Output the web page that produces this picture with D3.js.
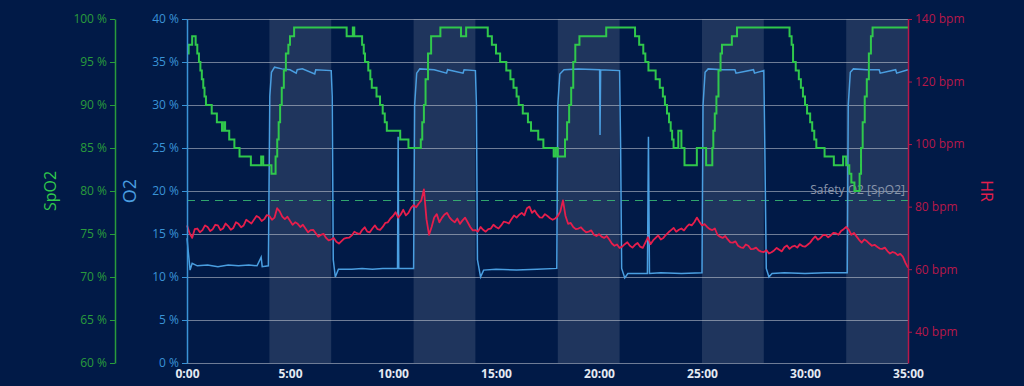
<!DOCTYPE html>
<html>
<head>
<meta charset="utf-8">
<script src="https://cdn.jsdelivr.net/npm/d3@7"></script>
<style>
  html, body { margin: 0; padding: 0; background: #011a47; }
  svg { display: block; }
</style>
</head>
<body>
<div id="chart"></div>
<script>
// time axis (minutes) and tick labels
var xTicks = [0, 5, 10, 15, 20, 25, 30, 35];
var xTickLabels = ["0:00", "5:00", "10:00", "15:00", "20:00", "25:00", "30:00", "35:00"];

// shaded phases (minutes)
var bandStart = [4, 11, 18, 25, 32];
var bandEnd   = [7, 14, 21, 28, 35];

// SpO2 (%) step trace
var spo2Time = [0.00, 0.08, 0.25, 0.42, 0.50, 0.58, 0.65, 0.72, 0.79, 0.85, 0.92, 1.20, 1.45, 1.70, 1.80, 1.85,
  2.05, 2.30, 2.55, 3.10, 3.60, 3.70, 4.10, 4.30, 4.38, 4.45, 4.52, 4.60, 4.70, 4.80, 4.92, 5.00, 5.20,
  7.75, 8.05, 8.12, 8.50, 8.58, 8.64, 8.80, 8.90, 8.97, 9.20, 9.37, 9.50, 9.60, 9.70, 10.35, 10.75,
  11.35, 11.42, 11.50, 11.58, 11.70, 11.85, 12.30, 13.30, 13.55, 14.60, 14.80, 15.00, 15.20, 15.50, 15.70,
  15.85, 16.00, 16.10, 16.30, 16.55, 16.70, 17.05, 17.30, 17.80, 17.90, 18.00, 18.35, 18.45, 18.55, 18.65,
  18.75, 18.85, 19.05, 20.35, 21.75, 21.95, 22.15, 22.25, 22.40, 22.75, 22.95, 23.10, 23.20, 23.30, 23.40,
  23.48, 23.55, 23.62, 23.85, 24.00, 24.15, 24.75, 25.20, 25.50, 25.55, 25.62, 25.70, 25.80, 25.90, 25.97,
  26.45, 26.70, 29.25, 29.35, 29.42, 29.55, 29.70, 29.80, 29.90, 30.00, 30.10, 30.25, 30.35, 30.45, 30.55,
  30.95, 31.40, 31.85, 32.00, 32.15, 32.25, 32.40, 32.65, 32.72, 32.80, 32.90, 33.00, 33.10, 33.20, 33.28, 35.00];
var spo2Value = [96, 97, 98, 97, 96, 95, 94, 93, 92, 91, 90, 89, 88, 87, 88, 87,
  86, 85, 84, 83, 84, 83, 82, 84, 86, 88, 90, 92, 94, 96, 97, 98, 99,
  98, 99, 98, 97, 96, 95, 94, 93, 92, 91, 90, 89, 88, 87, 86, 85,
  86, 88, 90, 93, 96, 98, 99, 98, 99, 98, 97, 96, 95, 94, 93,
  92, 91, 90, 89, 88, 87, 86, 85, 84, 85, 84, 86, 88, 90, 92,
  95, 97, 98, 99, 98, 97, 96, 95, 94, 93, 92, 91, 90, 89, 88,
  87, 86, 85, 87, 85, 83, 85, 83, 85, 87, 89, 91, 94, 96, 97,
  98, 99, 98, 97, 95, 94, 93, 92, 91, 90, 89, 88, 87, 86, 85,
  84, 83, 84, 83, 82, 81, 80, 82, 85, 88, 91, 93, 96, 98, 99, 99];

// O2 (%) trace
var o2Time = [0.00, 0.08, 0.15, 0.25, 0.50, 1.00, 1.50, 2.00, 2.50, 3.00, 3.40, 3.60, 3.65, 3.95,
  4.02, 4.10, 4.25, 4.60, 5.00, 5.30, 5.35, 5.60, 6.20, 6.25, 7.00, 7.05, 7.10, 7.20, 7.35,
  8.00, 8.50, 9.00, 9.50, 10.22, 10.25, 10.28, 11.00, 11.05, 11.15, 11.30, 12.00, 12.60, 12.65,
  13.40, 13.45, 14.00, 14.05, 14.10, 14.25, 14.40, 15.00, 16.00, 17.00, 17.95, 18.00, 18.10,
  18.30, 19.00, 20.03, 20.05, 20.08, 21.00, 21.05, 21.10, 21.25, 21.40, 22.35, 22.40, 22.45,
  23.00, 24.00, 25.00, 25.05, 25.15, 25.30, 26.00, 26.60, 26.65, 27.50, 27.55, 28.00, 28.05,
  28.12, 28.25, 28.40, 29.00, 30.00, 31.00, 32.05, 32.10, 32.20, 32.35, 33.00, 33.60, 33.65,
  34.40, 34.45, 35.00];
var o2Value = [14.5, 12.5, 10.8, 11.6, 11.3, 11.4, 11.2, 11.4, 11.3, 11.4, 11.3, 12.3, 11.2, 11.3,
  31.0, 33.8, 34.4, 34.2, 34.1, 33.7, 34.1, 34.2, 33.6, 34.1, 34.0, 31.0, 12.0, 10.0, 10.9,
  10.9, 11.0, 10.9, 11.0, 11.0, 26.3, 11.0, 11.0, 30.0, 33.7, 34.2, 34.1, 33.7, 34.1,
  33.7, 34.1, 34.0, 30.0, 12.0, 10.0, 10.8, 10.9, 10.8, 10.9, 11.0, 30.0, 33.6,
  34.1, 34.2, 34.1, 26.5, 34.1, 34.0, 25.0, 11.0, 9.9, 10.4, 10.4, 26.3, 10.4,
  10.5, 10.4, 10.5, 30.0, 33.8, 34.2, 34.1, 34.1, 33.7, 34.1, 33.7, 34.0, 25.0,
  11.0, 10.0, 10.4, 10.5, 10.4, 10.5, 10.5, 30.0, 33.8, 34.2, 34.1, 34.1, 33.7,
  34.1, 33.7, 34.1];

// HR (bpm), one reading every 7.5 s
var hrStep = 0.125;
var hrValue = [
  74, 71.5, 70, 72.8, 73, 71.8, 72.5, 74, 73.5, 72.2, 72.8, 74.2, 74, 72.5, 73, 74.6,
  73.8, 72.6, 73.2, 75, 74.5, 73.4, 74, 75.8, 75.2, 74.6, 75.8, 77, 76.5, 75.4, 76, 77.3,
  77, 75.8, 76.5, 79.5, 78.5, 76.8, 76, 76.8, 75.5, 74.2, 75, 74.5, 73.5, 74.2, 73, 71.8,
  72.5, 72.6, 71.5, 70.4, 71, 71.3, 70, 69.2, 69.5, 70, 68.8, 68.2, 69, 69.8, 70, 70.1,
  70.8, 72, 71.5, 71.2, 72.5, 73.4, 72, 71.8, 73, 74, 72.8, 72.6, 73.5, 74.8, 75, 76.2,
  77, 78.2, 76.5, 77.5, 79, 77.2, 78, 79.6, 80.5, 79.8, 81, 82, 85.5, 76, 71, 73.5,
  76.5, 77.6, 75, 76.4, 77.5, 78, 76.5, 75.6, 75, 76.2, 74.5, 75.6, 76.5, 75, 73.5, 72.4,
  72.5, 72, 73.5, 72.6, 72, 72.8, 73, 74.2, 73.5, 73, 74, 75.2, 75, 74.6, 76, 77.2,
  76.5, 77.4, 78, 77.2, 79.5, 80, 78, 78.8, 77.5, 76.6, 76.5, 77.6, 77, 76.3, 75.8, 76.2,
  77, 78.5, 82, 77, 74.5, 74.8, 73.5, 72.8, 73, 73.4, 72.5, 71.8, 72, 72.4, 71, 70.6,
  71.2, 70.4, 70, 70.6, 69.5, 68.2, 67.5, 67.9, 66.8, 67.2, 68, 68.6, 67.5, 66.9, 67.8, 68.4,
  67.2, 66.8, 68.5, 70.2, 68, 69.2, 70, 70.8, 69.5, 70, 71, 71.8, 72.5, 73.2, 72, 72.6,
  73, 72.4, 73.5, 74.3, 74, 75, 76.5, 75.2, 74, 74.4, 73.5, 72.8, 72.5, 73, 71, 70.4,
  70, 70.6, 69.5, 68.6, 68.5, 68.9, 67.5, 67, 66.8, 67.9, 67.5, 66.4, 66.5, 66.9, 66, 65.6,
  65.5, 66.1, 65, 65.4, 66, 66.8, 66.2, 65.7, 67, 67.6, 66.5, 67.2, 67.5, 66.9, 68, 67.4,
  67.2, 67.8, 68.5, 69.6, 70.5, 69.4, 70, 70.9, 71, 70.2, 70.8, 71.6, 71.5, 71, 72.2, 72.8,
  73.5, 72.6, 71, 71.6, 70.5, 69.4, 68.5, 69.5, 69, 68.2, 67.5, 67.8, 67.2, 66.6, 66.5, 66.9,
  65.8, 65, 65.5, 65.2, 64.5, 64.9, 64, 62, 60.5];

// safety threshold on SpO2
var safetyLevel = 79;
var safetyLabel = "Safety O2 [SpO2]";

var spo2Ticks = [60, 65, 70, 75, 80, 85, 90, 95, 100];
var o2Ticks = [0, 5, 10, 15, 20, 25, 30, 35, 40];
var hrTicks = [40, 60, 80, 100, 120, 140];

var width = 1024, height = 386;
var plotLeft = 187, plotRight = 908, plotTop = 19, plotBottom = 363;

var c = {
  bg: "#011a47",
  band: "rgba(255,255,255,0.12)",
  grid: "rgba(200,205,215,0.55)",
  spo2: "#30c84c", spo2Axis: "#2a9c3c",
  o2: "#4a9ee0", o2Axis: "#3a93d6",
  hr: "#e61e4c", hrAxis: "#b8184a"
};
var font = "'Open Sans', 'Noto Sans', sans-serif";

var svg = d3.select("#chart").append("svg")
  .attr("width", width).attr("height", height)
  .style("background", c.bg);

var x = d3.scaleLinear().domain([0, 35]).range([plotLeft, plotRight]);
var ySpo2 = d3.scaleLinear().domain([60, 100]).range([plotBottom, plotTop]);
var yO2 = d3.scaleLinear().domain([0, 40]).range([plotBottom, plotTop]);
var yHr = d3.scaleLinear().domain([30, 140]).range([plotBottom, plotTop]);

// shaded bands
svg.append("g").selectAll("rect")
  .data(bandStart)
  .enter().append("rect")
  .attr("x", function(d) { return x(d); })
  .attr("y", plotTop)
  .attr("width", function(d, i) { return x(bandEnd[i]) - x(d); })
  .attr("height", plotBottom - plotTop)
  .attr("fill", c.band);

// grid lines follow the O2 ticks
svg.append("g").selectAll("line")
  .data(o2Ticks)
  .enter().append("line")
  .attr("x1", plotLeft).attr("x2", plotRight)
  .attr("y1", function(d) { return yO2(d) + 0.5; })
  .attr("y2", function(d) { return yO2(d) + 0.5; })
  .attr("stroke", c.grid).attr("stroke-width", 1);

// safety line + label
svg.append("line")
  .attr("x1", plotLeft).attr("x2", plotRight)
  .attr("y1", Math.round(ySpo2(safetyLevel)) + 0.5).attr("y2", Math.round(ySpo2(safetyLevel)) + 0.5)
  .attr("stroke", "#3cc878").attr("stroke-width", 1.2)
  .attr("stroke-dasharray", "8,6").attr("opacity", 0.8);

svg.append("text")
  .attr("x", plotRight - 3).attr("y", ySpo2(safetyLevel) - 6)
  .attr("text-anchor", "end")
  .attr("font-family", font).attr("font-size", 12)
  .attr("fill", "#8a96ab")
  .text(safetyLabel);

// series
var o2Line = d3.line()
  .x(function(d, i) { return x(o2Time[i]); })
  .y(function(d) { return yO2(d); });
svg.append("path")
  .attr("d", o2Line(o2Value))
  .attr("fill", "none").attr("stroke", c.o2).attr("stroke-width", 1.5);

var hrLine = d3.line()
  .x(function(d, i) { return x(i * hrStep); })
  .y(function(d) { return yHr(d); });
svg.append("path")
  .attr("d", hrLine(hrValue))
  .attr("fill", "none").attr("stroke", c.hr).attr("stroke-width", 1.8)
  .attr("stroke-linejoin", "round");

var spo2Line = d3.line()
  .curve(d3.curveStepAfter)
  .x(function(d, i) { return x(spo2Time[i]); })
  .y(function(d) { return ySpo2(d); });
svg.append("path")
  .attr("d", spo2Line(spo2Value))
  .attr("fill", "none").attr("stroke", c.spo2).attr("stroke-width", 2);

// axes
function styleAxis(g, color) {
  g.selectAll("path.domain").attr("stroke", color).attr("stroke-width", 1.5);
  g.selectAll(".tick line").attr("stroke", color);
  g.selectAll(".tick text").attr("fill", color)
    .attr("font-family", font).attr("font-size", 12);
}

var spo2Axis = svg.append("g")
  .attr("transform", "translate(115,0)")
  .call(d3.axisLeft(ySpo2).tickValues(spo2Ticks).tickSize(5).tickSizeOuter(0)
    .tickFormat(function(d) { return d + " %"; }));
styleAxis(spo2Axis, c.spo2Axis);

var o2Axis = svg.append("g")
  .attr("transform", "translate(" + plotLeft + ",0)")
  .call(d3.axisLeft(yO2).tickValues(o2Ticks).tickSize(5).tickSizeOuter(0)
    .tickFormat(function(d) { return d + " %"; }));
styleAxis(o2Axis, c.o2Axis);

var hrAxis = svg.append("g")
  .attr("transform", "translate(" + plotRight + ",0)")
  .call(d3.axisRight(yHr).tickValues(hrTicks).tickSize(4).tickSizeOuter(0)
    .tickFormat(function(d) { return d + " bpm"; }));
styleAxis(hrAxis, c.hrAxis);

var xAxis = svg.append("g")
  .attr("transform", "translate(0," + plotBottom + ")")
  .call(d3.axisBottom(x).tickValues(xTicks).tickSize(0).tickPadding(6)
    .tickFormat(function(d, i) { return xTickLabels[i]; }));
xAxis.select("path.domain").remove();
xAxis.selectAll(".tick text")
  .attr("fill", "#e4e9f2").attr("font-family", font)
  .attr("font-size", 12).attr("font-weight", "bold");

// axis titles
svg.append("text")
  .attr("transform", "translate(56,191) rotate(-90)")
  .attr("text-anchor", "middle")
  .attr("font-family", font).attr("font-size", 16)
  .attr("fill", c.spo2).text("SpO2");

svg.append("text")
  .attr("transform", "translate(136,191) rotate(-90)")
  .attr("text-anchor", "middle")
  .attr("font-family", font).attr("font-size", 18)
  .attr("fill", c.o2).text("O2");

svg.append("text")
  .attr("transform", "translate(981,191) rotate(90)")
  .attr("text-anchor", "middle")
  .attr("font-family", font).attr("font-size", 16)
  .attr("fill", c.hr).text("HR");
</script>
</body>
</html>
